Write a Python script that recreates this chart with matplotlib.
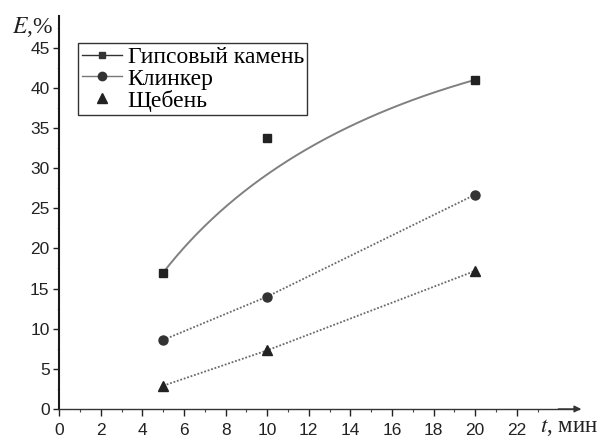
import numpy as np
import matplotlib
matplotlib.use("Agg")
import matplotlib.pyplot as plt
from matplotlib.lines import Line2D
from matplotlib.ticker import MultipleLocator

plt.rcParams['mathtext.fontset'] = 'stix'

# time, min
t = [5, 10, 20]
# E, %
gypsum = [17.0, 33.7, 41.0]
clinker = [8.6, 14.0, 26.7]
gravel = [2.9, 7.3, 17.2]
labels = ['Гипсовый камень', 'Клинкер', 'Щебень']
xticks = list(range(0, 23, 2))
yticks = list(range(0, 46, 5))

fig = plt.figure(figsize=(6.08, 4.42), dpi=100)
ax = fig.add_axes([0.0975, 0.0747, 0.855, 0.89])

# smooth B-spline through the gypsum points (quadratic Bezier, like Origin)
s = np.linspace(0, 1, 200)
p = np.array([t, gypsum], dtype=float)
curve = ((1 - s) ** 2)[:, None] * p[:, 0] + (2 * s * (1 - s))[:, None] * p[:, 1] + (s ** 2)[:, None] * p[:, 2]
ax.plot(curve[:, 0], curve[:, 1], color='#808080', lw=1.4, zorder=2)
ax.plot(t, gypsum, ls='none', marker='s', ms=5.5, color='#222222', zorder=3)

dots = (0, (1, 1))
ax.plot(t, clinker, ls=dots, lw=1.3, color='#6a6a6a', marker='o', ms=6.5,
        mfc='#333333', mec='#333333', zorder=3)
ax.plot(t, gravel, ls=dots, lw=1.3, color='#6a6a6a', marker='^', ms=7,
        mfc='#222222', mec='#222222', zorder=3)

ax.set_xlim(0, 25)
ax.set_ylim(0, 49)
ax.set_xticks(xticks)
ax.set_yticks(yticks)
ax.xaxis.set_minor_locator(MultipleLocator(1))
ax.yaxis.set_minor_locator(MultipleLocator(2.5))
ax.tick_params(axis='x', which='major', direction='out', length=5, width=1, pad=5,
               labelsize=12.5, colors='#222222')
ax.tick_params(axis='x', which='minor', direction='out', length=2.5, width=0.8, colors='#444444')
ax.tick_params(axis='y', which='major', direction='out', length=4, width=1, pad=3,
               labelsize=12.5, colors='#222222')
ax.tick_params(axis='y', which='minor', length=1.5, width=0.6, colors='#aaaaaa')
for lab in ax.get_xticklabels() + ax.get_yticklabels():
    lab.set_fontfamily('Liberation Sans')
for tk in ax.xaxis.get_minor_ticks():
    if tk.get_loc() > 23:
        tk.set_visible(False)

for side in ['top', 'right']:
    ax.spines[side].set_visible(False)
ax.spines['left'].set_color('#1a1a1a')
ax.spines['bottom'].set_color('#333333')
ax.spines['left'].set_linewidth(1.5)
ax.spines['bottom'].set_linewidth(1.0)

# arrow at end of the x axis
ax.annotate('', xy=(25.1, 0), xytext=(24.0, 0), xycoords='data',
            arrowprops=dict(arrowstyle='-|>', color='#333333', lw=1.0,
                            mutation_scale=10, shrinkA=0, shrinkB=0),
            annotation_clip=False)

fig.text(12 / 608, 1 - 33 / 442, '$E$,%', fontsize=17, fontfamily='Liberation Serif',
         color='#222222', va='baseline', ha='left')
fig.text(540 / 608, 1 - 432 / 442, '$t$, мин', fontsize=16.5, fontfamily='Liberation Serif',
         color='#222222', va='baseline', ha='left')

handles = [
    Line2D([], [], color='#333333', lw=1.0, marker='s', ms=5),
    Line2D([], [], color='#777777', lw=1.0, marker='o', ms=6, mfc='#333333', mec='#333333'),
    Line2D([], [], ls='none', marker='^', ms=7, color='#222222'),
]
leg = ax.legend(handles, labels, loc='upper left', bbox_to_anchor=(0.036, 0.93),
                borderaxespad=0, fancybox=False, framealpha=1, edgecolor='#333333',
                prop={'family': 'Liberation Serif', 'size': 17},
                handlelength=1.7, handletextpad=0.25, labelspacing=0.0,
                borderpad=0.15)
leg.get_frame().set_linewidth(1.0)

fig.savefig('out.png', dpi=100)
